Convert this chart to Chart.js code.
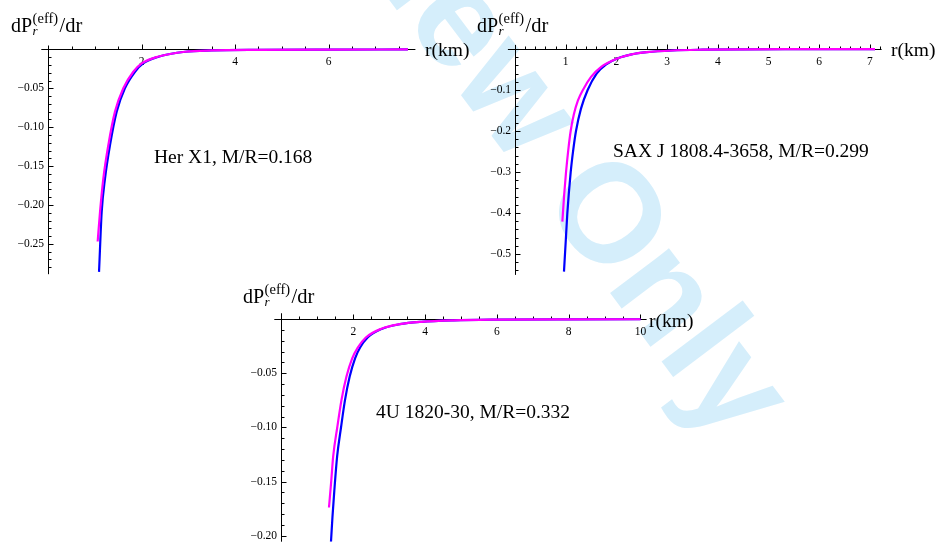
<!DOCTYPE html>
<html><head><meta charset="utf-8">
<script src="https://cdn.jsdelivr.net/npm/chart.js@4.4.1/dist/chart.umd.min.js"></script>
<style>
html,body{margin:0;padding:0;background:#fff;overflow:hidden}
.wrap{position:relative;width:937px;height:542px;background:#fff}
.wrap canvas{position:absolute;left:0;top:0}
</style>
</head><body>
<div class="wrap">
<canvas id="c1" width="937" height="542"></canvas>
<canvas id="c2" width="937" height="542"></canvas>
<canvas id="c3" width="937" height="542"></canvas>
</div>
<script>
// ---------- DATA ----------
// Panel 1: Her X1
const her_note = "Her X1, M/R=0.168";
const her_rBlue = [1.086, 1.143, 1.214, 1.321, 1.464, 1.64, 1.857, 2.03, 2.36, 2.93, 3.5, 4.5, 6.0, 7.7];
const her_blue  = [-0.286, -0.209, -0.166, -0.123, -0.080, -0.050, -0.0287, -0.018, -0.0094, -0.003, -0.0013, -0.0005, -0.0002, -0.0001];
const her_rMag  = [1.057, 1.107, 1.178, 1.285, 1.428, 1.606, 1.82, 2.0, 2.36, 2.93, 3.5, 4.5, 6.0, 7.7];
const her_mag   = [-0.247, -0.209, -0.166, -0.123, -0.080, -0.050, -0.0287, -0.018, -0.0092, -0.003, -0.0013, -0.0005, -0.0002, -0.0001];
const her_xTicks = [2, 4, 6];
const her_xTickLabels = ["2", "4", "6"];
const her_yTicks = [-0.05, -0.10, -0.15, -0.20, -0.25];
const her_yTickLabels = ["\u22120.05", "\u22120.10", "\u22120.15", "\u22120.20", "\u22120.25"];

// Panel 2: SAX J 1808.4-3658
const sax_note = "SAX J 1808.4-3658, M/R=0.299";
const sax_rBlue = [0.966, 1.0, 1.032, 1.098, 1.15, 1.203, 1.30, 1.433, 1.61, 1.80, 2.03, 2.3, 2.6, 3.1, 3.7, 4.5, 5.5, 7.1];
const sax_blue  = [-0.543, -0.47, -0.401, -0.301, -0.245, -0.200, -0.146, -0.100, -0.060, -0.0375, -0.0225, -0.0132, -0.0078, -0.0036, -0.0017, -0.0007, -0.0003, -0.0001];
const sax_rMag  = [0.934, 0.97, 1.006, 1.05, 1.098, 1.16, 1.24, 1.348, 1.5, 1.7, 2.0, 2.3, 2.6, 3.1, 3.7, 4.5, 5.5, 7.1];
const sax_mag   = [-0.421, -0.355, -0.301, -0.247, -0.200, -0.160, -0.126, -0.098, -0.068, -0.0434, -0.0240, -0.0131, -0.0077, -0.0036, -0.0017, -0.0007, -0.0003, -0.0001];
const sax_xTicks = [1, 2, 3, 4, 5, 6, 7];
const sax_xTickLabels = ["1", "2", "3", "4", "5", "6", "7"];
const sax_yTicks = [-0.1, -0.2, -0.3, -0.4, -0.5];
const sax_yTickLabels = ["\u22120.1", "\u22120.2", "\u22120.3", "\u22120.4", "\u22120.5"];

// Panel 3: 4U 1820-30
const u4_note = "4U 1820-30, M/R=0.332";
const u4_rBlue = [1.379, 1.42, 1.471, 1.55, 1.657, 1.77, 1.90, 2.05, 2.19, 2.4, 2.79, 3.3, 3.9, 4.8, 6.0, 8.0, 10.0];
const u4_blue  = [-0.2056, -0.1828, -0.1588, -0.1268, -0.1003, -0.0745, -0.0530, -0.0362, -0.0262, -0.0169, -0.0090, -0.0046, -0.0024, -0.00105, -0.00043, -0.00014, -0.00006];
const u4_rMag  = [1.323, 1.385, 1.44, 1.552, 1.672, 1.81, 1.97, 2.125, 2.35, 2.765, 3.29, 3.9, 4.8, 6.0, 8.0, 10.0];
const u4_mag   = [-0.174, -0.150, -0.1268, -0.1003, -0.0745, -0.0530, -0.0362, -0.0262, -0.0169, -0.0090, -0.0046, -0.0024, -0.00105, -0.00043, -0.00014, -0.00006];
const u4_xTicks = [2, 4, 6, 8, 10];
const u4_xTickLabels = ["2", "4", "6", "8", "10"];
const u4_yTicks = [-0.05, -0.10, -0.15, -0.20];
const u4_yTickLabels = ["\u22120.05", "\u22120.10", "\u22120.15", "\u22120.20"];

const xAxisTitle = "r(km)";
const watermark = "Review Only";

// ---------- LAYOUT / STYLE ----------
const W = 937, H = 542;
const SERIF = "'Liberation Serif','Times New Roman',serif";

const panels = [
  {id:'c1', area:{left:41.3, top:45.5, right:415.4, bottom:274.2}, x:[-0.15, 7.86], y:[-0.289, 0.005],
   xT:her_xTicks, xL:her_xTickLabels, xMinor:0.5, yT:her_yTicks, yL:her_yTickLabels, yMinor:0.01,
   rB:her_rBlue, vB:her_blue, rM:her_rMag, vM:her_mag,
   note:her_note, noteX:154, noteY:163, ylabX:11, ylabY:32, xlabX:425, xlabY:56, watermark:true},
  {id:'c2', area:{left:507.9, top:44.9, right:881.6, bottom:274.9}, x:[-0.14, 7.23], y:[-0.551, 0.01],
   xT:sax_xTicks, xL:sax_xTickLabels, xMinor:0.2, yT:sax_yTicks, yL:sax_yTickLabels, yMinor:0.02,
   rB:sax_rBlue, vB:sax_blue, rM:sax_rMag, vM:sax_mag,
   note:sax_note, noteX:613, noteY:157, ylabX:477, ylabY:32, xlabX:891, xlabY:56},
  {id:'c3', area:{left:274.3, top:313.25, right:646.6, bottom:541.7}, x:[-0.2, 10.17], y:[-0.2056, 0.0055],
   xT:u4_xTicks, xL:u4_xTickLabels, xMinor:0.5, yT:u4_yTicks, yL:u4_yTickLabels, yMinor:0.01,
   rB:u4_rBlue, vB:u4_blue, rM:u4_rMag, vM:u4_mag,
   note:u4_note, noteX:376, noteY:418, ylabX:243, ylabY:303, xlabX:649, xlabY:327}
];

function xy(rs, vs){ return rs.map((r,i)=>({x:r, y:vs[i]})); }
function near(list, v, eps){ return list.some(t=>Math.abs(t-v)<eps); }

function drawYTitle(ctx, x, y){
  ctx.save();
  ctx.fillStyle = '#000'; ctx.textAlign = 'left'; ctx.textBaseline = 'alphabetic';
  ctx.font = "20px " + SERIF; ctx.fillText('dP', x, y);
  const w1 = ctx.measureText('dP').width;
  ctx.font = "italic 13px " + SERIF; ctx.fillText('r', x + w1 + 0.5, y + 3);
  ctx.font = "14.5px " + SERIF; ctx.fillText('(eff)', x + w1 + 0.5, y - 9.5);
  const w2 = ctx.measureText('(eff)').width;
  ctx.font = "20.5px " + SERIF; ctx.fillText('/dr', x + w1 + w2 + 2, y);
  ctx.restore();
}

function axesPlugin(p){
  return {
    id:'mmaAxes'+p.id,
    beforeDraw(chart){
      if(!p.watermark) return;
      const ctx = chart.ctx;
      ctx.save();
      ctx.fillStyle = 'rgb(213,238,251)';
      ctx.font = "bold 140px 'Liberation Sans',Arial,sans-serif";
      ctx.textAlign = 'left'; ctx.textBaseline = 'alphabetic';
      ctx.translate(225, -218);
      ctx.rotate(53*Math.PI/180);
      ctx.fillText(watermark, 0, 0);
      ctx.restore();
    },
    beforeDatasetsDraw(chart){
      const ctx = chart.ctx, xs = chart.scales.x, ys = chart.scales.y, a = chart.chartArea;
      const x0 = Math.round(xs.getPixelForValue(0)) + 0.5;
      const y0 = Math.round(ys.getPixelForValue(0)) + 0.5;
      ctx.save();
      ctx.strokeStyle = '#000'; ctx.lineWidth = 1;
      ctx.beginPath();
      ctx.moveTo(a.left, y0); ctx.lineTo(a.right, y0);
      ctx.moveTo(x0, a.top); ctx.lineTo(x0, a.bottom);
      for(let k=1; k*p.xMinor <= p.x[1]+1e-9; k++){
        const v = k*p.xMinor; if(near(p.xT, v, 1e-6)) continue;
        const px = Math.round(xs.getPixelForValue(v)) + 0.5;
        ctx.moveTo(px, y0); ctx.lineTo(px, y0 - 3);
      }
      p.xT.forEach(v=>{ const px = Math.round(xs.getPixelForValue(v)) + 0.5; ctx.moveTo(px, y0); ctx.lineTo(px, y0 - 5); });
      for(let k=1; -k*p.yMinor >= p.y[0]-1e-9; k++){
        const v = -k*p.yMinor; if(near(p.yT, v, 1e-6)) continue;
        const py = Math.round(ys.getPixelForValue(v)) + 0.5;
        ctx.moveTo(x0, py); ctx.lineTo(x0 + 3, py);
      }
      p.yT.forEach(v=>{ const py = Math.round(ys.getPixelForValue(v)) + 0.5; ctx.moveTo(x0, py); ctx.lineTo(x0 + 5, py); });
      ctx.stroke();
      ctx.fillStyle = '#000';
      ctx.font = "11.5px " + SERIF;
      ctx.textAlign = 'center'; ctx.textBaseline = 'alphabetic';
      p.xT.forEach((v,i)=>ctx.fillText(p.xL[i], xs.getPixelForValue(v), y0 + 15));
      ctx.textAlign = 'right'; ctx.textBaseline = 'middle';
      p.yT.forEach((v,i)=>ctx.fillText(p.yL[i], x0 - 4.5, ys.getPixelForValue(v)));
      ctx.restore();
    },
    afterDraw(chart){
      const ctx = chart.ctx;
      ctx.save();
      drawYTitle(ctx, p.ylabX, p.ylabY);
      ctx.fillStyle = '#000'; ctx.textAlign = 'left'; ctx.textBaseline = 'alphabetic';
      ctx.font = "19.5px " + SERIF;
      ctx.fillText(xAxisTitle, p.xlabX, p.xlabY);
      ctx.fillText(p.note, p.noteX, p.noteY);
      ctx.restore();
    }
  };
}

panels.forEach(p=>{
  new Chart(document.getElementById(p.id), {
    type:'line',
    data:{datasets:[
      {label:'magenta', data:xy(p.rM, p.vM), borderColor:'#ff00ff', borderWidth:2.2, pointRadius:0, cubicInterpolationMode:'monotone', fill:false},
      {label:'blue', data:xy(p.rB, p.vB), borderColor:'#0000ff', borderWidth:2.2, pointRadius:0, cubicInterpolationMode:'monotone', fill:false}
    ]},
    options:{
      responsive:false, animation:false, events:[],
      layout:{padding:{left:p.area.left, top:p.area.top, right:W-p.area.right, bottom:H-p.area.bottom}},
      scales:{
        x:{type:'linear', min:p.x[0], max:p.x[1], display:false},
        y:{type:'linear', min:p.y[0], max:p.y[1], display:false}
      },
      plugins:{legend:{display:false}, tooltip:{enabled:false}, title:{display:false}}
    },
    plugins:[axesPlugin(p)]
  });
});
</script>
</body></html>
